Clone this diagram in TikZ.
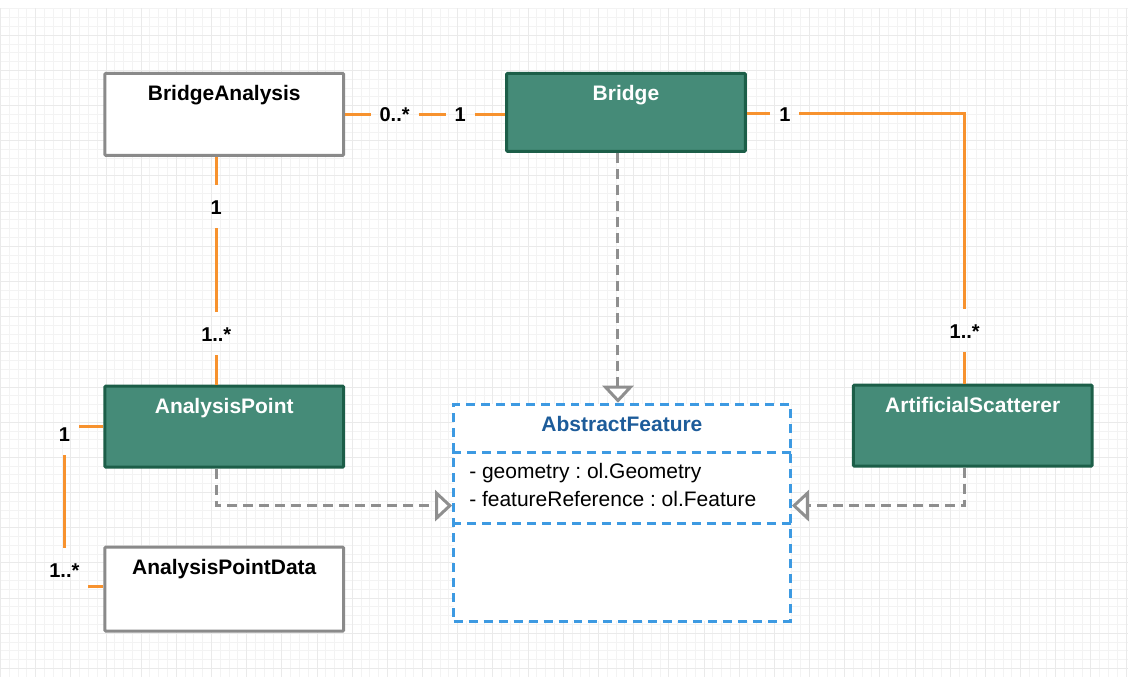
\documentclass[tikz,border=0pt]{standalone}
\usepackage{fontspec}
\setmainfont{Liberation Sans}
\usetikzlibrary{arrows.meta}

\definecolor{boxgreen}{HTML}{458B78}
\definecolor{boxedge}{HTML}{1C5E48}
\definecolor{boxgrey}{HTML}{8A8A8A}
\definecolor{linkorange}{HTML}{F7922E}
\definecolor{dashgrey}{HTML}{8F8F8F}
\definecolor{featureblue}{HTML}{3D9AE2}
\definecolor{titleblue}{HTML}{1D5C9A}
\definecolor{gridminor}{HTML}{F3F3F3}
\definecolor{gridmajor}{HTML}{EAEAEA}

\tikzset{
  classbox/.style={draw=boxgrey, fill=white, line width=3pt, rounded corners=1pt,
    minimum width=239pt, minimum height=82pt, inner sep=0pt},
  greenbox/.style={classbox, draw=boxedge, fill=boxgreen},
  featurebox/.style={draw=featureblue, fill=white, line width=3pt,
    dash pattern=on 9pt off 6pt, minimum width=337pt, minimum height=217pt, inner sep=0pt},
  featureline/.style={draw=featureblue, line width=3pt, dash pattern=on 9pt off 6pt},
  title/.style={font=\fontsize{21}{25}\selectfont\bfseries, inner sep=0pt, anchor=base},
  attr/.style={font=\fontsize{21}{25}\selectfont\frenchspacing, inner sep=0pt, anchor=base west},
  assoc/.style={draw=linkorange, line width=3pt},
  mult/.style={font=\fontsize{20}{24}\selectfont\bfseries, text height=15pt, text depth=0pt,
    inner xsep=9pt, inner ysep=14pt, outer sep=0pt},
  realize/.style={draw=dashgrey, line width=3pt, dash pattern=on 10pt off 6pt,
    -{Triangle[fill=white, length=17pt, width=31pt]}},
}

\begin{document}
\begin{tikzpicture}[x=1pt, y=-1pt]
    % background and grid
    \fill[white] (0,0) rectangle (1128,678);
    \draw[gridminor, line width=0.8pt, step=8.8pt] (0,8) grid (1128,677);
    \draw[gridmajor, line width=0.8pt, step=35.2pt] (0,8) grid (1128,677);
    \useasboundingbox (0,0) rectangle (1128,678);

    % classes
    \node[classbox] (banalysis) at (224,114.5) {};
    \node[greenbox, minimum height=78pt] (bridge) at (626,112.5) {};
    \node[greenbox, minimum height=81pt] (apoint) at (224,427) {};
    \node[classbox, minimum height=84pt] (apdata) at (224,589.5) {};
    \node[greenbox, minimum height=81pt] (scatterer) at (973,426) {};
    \node[featurebox] (feature) at (622,513) {};

    \node[title] (banalysis-t) at ([yshift=-29pt]banalysis.north) {BridgeAnalysis};
    \node[title, white] (bridge-t) at ([yshift=-29pt]bridge.north) {Bridge};
    \node[title, white] (apoint-t) at ([yshift=-28.5pt]apoint.north) {AnalysisPoint};
    \node[title] (apdata-t) at ([yshift=-29pt]apdata.north) {AnalysisPointData};
    \node[title, white] (scatterer-t) at ([yshift=-29pt]scatterer.north) {ArtificialScatterer};
    \node[title, titleblue] (feature-t) at ([yshift=-29pt]feature.north) {AbstractFeature};

    % compartments of AbstractFeature
    \draw[featureline] (feature.west |- 0,453) -- (feature.east |- 0,453);
    \draw[featureline] (feature.west |- 0,524) -- (feature.east |- 0,524);
    \node[attr] (attr1) at (469,479) {- geometry : ol.Geometry};
    \node[attr] (attr2) at (469,507) {- featureReference : ol.Feature};

    % realizations
    \draw[realize] ([xshift=-8pt]bridge.south) -- ([xshift=-8pt]bridge.south |- feature.north);
    \draw[realize] ([xshift=-8pt]apoint.south) |- ([yshift=7pt]feature.west);
    \draw[realize] ([xshift=-8pt]scatterer.south) |- ([yshift=7pt]feature.east);

    % multiplicities
    \node[mult] (m1) at (394.5,114.5) {0..*};
    \node[mult] (m2) at (460,114.5) {1};
    \node[mult] (m3) at (785,114) {1};
    \node[mult] (m4) at (965,331) {1..*};
    \node[mult] (m5) at (216,207) {1};
    \node[mult] (m6) at (216,334) {1..*};
    \node[mult] (m7) at (64,434) {1};
    \node[mult] (m8) at (64,570) {1..*};

    % associations
    \draw[assoc] (banalysis.east) -- (m1.west);
    \draw[assoc] (m1.east) -- (m2.west);
    \draw[assoc] (m2.east) -- (m2.east -| bridge.west);
    \draw[assoc] (bridge.east |- m3) -- (m3.west);
    \draw[assoc] (m3.east) -| (m4.north);
    \draw[assoc] (m4.south) -- (m4.south |- scatterer.north);
    \draw[assoc] (banalysis.south -| m5) -- (m5.north);
    \draw[assoc] (m5.south) -- (m6.north);
    \draw[assoc] (m6.south) -- (m6.south |- apoint.north);
    \draw[assoc] (apoint.west) -- (apoint.west -| m7.east);
    \draw[assoc] (m7.south) -- (m8.north);
    \draw[assoc] (m8.east |- 0,587) -- (apdata.west |- 0,587);
\end{tikzpicture}
\end{document}
